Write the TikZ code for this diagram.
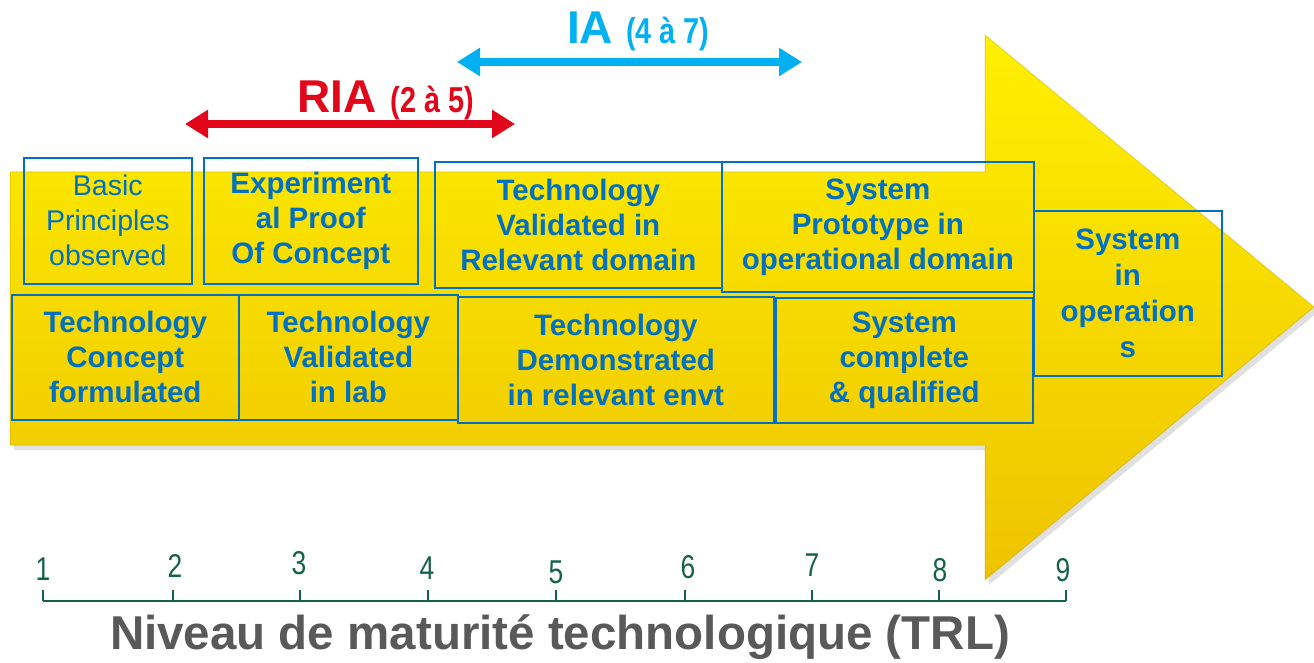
\documentclass[tikz,border=0pt]{standalone}
\usepackage{fontspec}
\setmainfont{Liberation Sans}
\newfontfamily\narrowfont[FakeStretch=0.8]{Liberation Sans}
\usetikzlibrary{arrows.meta}
\definecolor{boxblue}{HTML}{0070C0}
\definecolor{arrowtop}{HTML}{FFF000}
\definecolor{arrowbot}{HTML}{EEC300}
\definecolor{riared}{HTML}{E2061A}
\definecolor{iacyan}{HTML}{00B0F0}
\definecolor{axisgreen}{HTML}{15614A}
\definecolor{titlegray}{HTML}{595959}
\begin{document}
\begin{tikzpicture}[x=1pt,y=-1pt,
  trl/.style={draw=boxblue, line width=1.6pt, text=boxblue,
    font=\bfseries\fontsize{29.5}{35}\selectfont, align=center,
    inner sep=0pt, anchor=north west},
  trlreg/.style={trl, font=\fontsize{28.5}{35}\selectfont},
  spanarrow/.style={line width=7.5pt, {Triangle[length=23pt,width=27pt]}-{Triangle[length=23pt,width=27pt]}},
  num/.style={text=axisgreen, font=\narrowfont\fontsize{33}{33}\selectfont, inner sep=0pt},
  axisline/.style={draw=axisgreen, line width=1.5pt}
]
\useasboundingbox (0,0) rectangle (1314,663);

% big arrow with soft shadow
\fill[black, opacity=0.12] (14,177) -- (989,177) -- (989,40) -- (1318,312) -- (989,585) -- (989,450) -- (14,450) -- cycle;
\shade[top color=arrowtop, bottom color=arrowbot]
  (10,172) -- (985,172) -- (985,35) -- (1314,307) -- (985,580) -- (985,445) -- (10,445) -- cycle;
\draw[arrowbot!80!black, opacity=0.35, line width=1pt]
  (10,172) -- (985,172) -- (985,35) -- (1314,307) -- (985,580) -- (985,445) -- (10,445) -- cycle;

% boxes
\node[trlreg, minimum width=168pt, minimum height=126pt] (b1) at (23,157) {Basic\\Principles\\observed};
\node[trl, minimum width=214pt, minimum height=126pt] (b2) at (203,157) {Experiment\\al Proof\\Of Concept};
\node[trl, minimum width=287pt, minimum height=126pt] (b3) at (434,161) {Technology\\Validated in\\Relevant domain};
\node[trl, minimum width=312pt, minimum height=130pt] (b4) at (721,161) {System\\Prototype in\\operational domain};
\node[trl, minimum width=227pt, minimum height=125pt] (b5) at (11,294) {Technology\\Concept\\formulated};
\node[trl, minimum width=219pt, minimum height=125pt] (b6) at (238,294) {Technology\\Validated\\in lab};
\node[trl, minimum width=316pt, minimum height=126pt] (b7) at (457,296) {Technology\\Demonstrated\\in relevant envt};
\node[trl, minimum width=257pt, minimum height=125pt] (b8) at (775,297) {System\\complete\\\& qualified};
\node[trl, minimum width=188pt, minimum height=165pt, font=\bfseries\fontsize{29.5}{36}\selectfont] (b9) at (1033,210) {System\\in\\operation\\s};

% RIA range
\coordinate (r1) at (185,124);
\coordinate (r2) at (515,124);
\draw[spanarrow, riared] (r1) -- (r2);
\node[anchor=base west, text=riared, inner sep=0pt] (ria) at (297,113)
  {\bfseries\fontsize{46}{46}\selectfont RIA\hspace{14pt}\narrowfont\fontsize{36}{36}\selectfont (2 à 5)};

% IA range
\coordinate (i1) at (457,62);
\coordinate (i2) at (802,62);
\draw[spanarrow, iacyan] (i1) -- (i2);
\node[anchor=base west, text=iacyan, inner sep=0pt] (ia) at (567,44)
  {\bfseries\fontsize{46}{46}\selectfont IA\hspace{13pt}\narrowfont\fontsize{36}{36}\selectfont (4 à 7)};

% axis
\coordinate (t1) at (43,601);
\coordinate (t2) at (173,601);
\coordinate (t3) at (300,601);
\coordinate (t4) at (428,601);
\coordinate (t5) at (556,601);
\coordinate (t6) at (685,601);
\coordinate (t7) at (812,601);
\coordinate (t8) at (939,601);
\coordinate (t9) at (1066,601);
\draw[axisline] (t1) -- (t9);
\foreach \i in {1,...,9} { \draw[axisline] (t\i) -- ++(0,-11); }
\node[num] (n1) at (43,569) {1};
\node[num] (n2) at (175,566) {2};
\node[num] (n3) at (299,563) {3};
\node[num] (n4) at (427,568) {4};
\node[num] (n5) at (556,572) {5};
\node[num] (n6) at (688,567) {6};
\node[num] (n7) at (812,565) {7};
\node[num] (n8) at (940,570) {8};
\node[num] (n9) at (1063,570) {9};

\node[text=titlegray, font=\bfseries\fontsize{47.5}{47.5}\selectfont, inner sep=0pt] (title) at (560,637)
  {Niveau de maturité technologique (TRL)};
\end{tikzpicture}
\end{document}
